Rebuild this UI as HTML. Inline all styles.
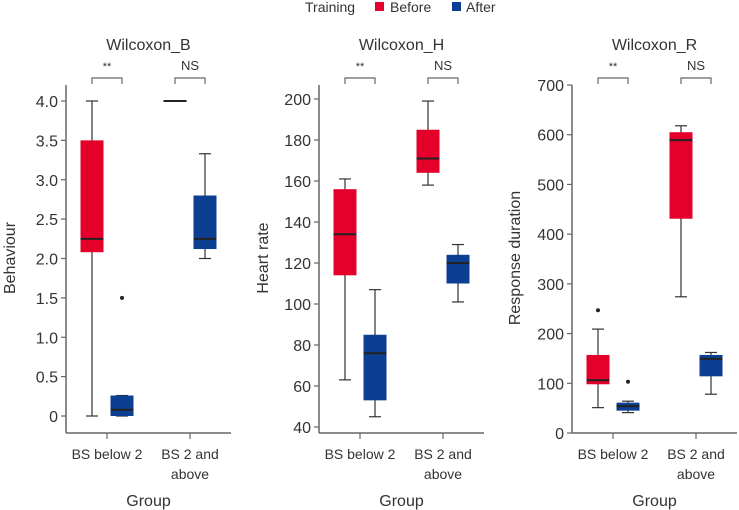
<!DOCTYPE html>
<html><head><meta charset="utf-8"><style>
html,body{margin:0;padding:0;background:#fff}
svg{display:block;font-family:"Liberation Sans",sans-serif}
</style></head><body>
<svg id="c" width="739" height="510" viewBox="0 0 739 510">
<g>
<text x="305" y="12" font-size="14" fill="#333">Training</text>
<rect x="375" y="2" width="9" height="9" fill="#e4002b"/>
<text x="390" y="12" font-size="14" fill="#333">Before</text>
<rect x="452" y="2" width="9" height="9" fill="#0c3f91"/>
<text x="466" y="12" font-size="14" fill="#333">After</text>
</g>
</svg>
<script>
const groups = ["BS below 2", "BS 2 and above"];
const sigLabels = ["**", "NS"];
// [whiskerLow, q1, median, q3, whiskerHigh]
const behaviourBefore = [[0, 2.08, 2.25, 3.5, 4.0], [4.0, 4.0, 4.0, 4.0, 4.0]];
const behaviourAfter = [[0, 0, 0.08, 0.26, 0.26], [2.0, 2.12, 2.25, 2.8, 3.33]];
const behaviourOutliersBefore = [[], []];
const behaviourOutliersAfter = [[1.5], []];
const behaviourTicks = [0, 0.5, 1.0, 1.5, 2.0, 2.5, 3.0, 3.5, 4.0];
const behaviourTickLabels = ["0", "0.5", "1.0", "1.5", "2.0", "2.5", "3.0", "3.5", "4.0"];
const heartBefore = [[63, 114, 134, 156, 161], [158, 164, 171, 185, 199]];
const heartAfter = [[45, 53, 76, 85, 107], [101, 110, 120, 124, 129]];
const heartOutliersBefore = [[], []];
const heartOutliersAfter = [[], []];
const heartTicks = [40, 60, 80, 100, 120, 140, 160, 180, 200];
const respBefore = [[51, 98, 106, 157, 209], [274, 431, 589, 605, 618]];
const respAfter = [[41, 45, 54, 61, 64], [78, 114, 149, 157, 162]];
const respOutliersBefore = [[247], []];
const respOutliersAfter = [[103], []];
const respTicks = [0, 100, 200, 300, 400, 500, 600, 700];

const NS = "http://www.w3.org/2000/svg";
const svg = document.getElementById("c");
function el(tag, attrs, parent, text) {
  const e = document.createElementNS(NS, tag);
  for (const k in attrs) e.setAttribute(k, attrs[k]);
  if (text !== undefined) e.textContent = text;
  (parent || svg).appendChild(e);
  return e;
}
const RED = "#e4002b", BLUE = "#0c3f91", AX = "#666";

function panel(cfg) {
  const g = el("g", {}, svg);
  
  
  const y = v => cfg.y0 + (v - cfg.v0) * (cfg.y1 - cfg.y0) / (cfg.v1 - cfg.v0);
  const gx = i => cfg.gx[i];
  const ya = el("line", {x1: cfg.ax, x2: cfg.ax, y1: 85, y2: 433, stroke: AX, "stroke-width": 1.5}, g);
  
  
  const xa = el("line", {x1: cfg.ax, x2: cfg.axEnd, y1: 433, y2: 433, stroke: AX, "stroke-width": 1.5}, g);
  
  
  cfg.ticks.forEach((t, i) => {
    el("line", {x1: cfg.ax - 5, x2: cfg.ax, y1: y(t), y2: y(t), stroke: AX, "stroke-width": 1.2}, g);
    const tl = el("text", {x: cfg.ax - 8, y: y(t) + 6, "text-anchor": "end", "font-size": 16, fill: "#333"}, g, cfg.labels ? cfg.labels[i] : String(t));
    
    
  });
  groups.forEach((name, i) => {
    el("line", {x1: gx(i), x2: gx(i), y1: 433, y2: 439, stroke: AX, "stroke-width": 1.2}, g);
    const parts = i === 0 ? [name] : ["BS 2 and", "above"];
    parts.forEach((p, j) => {
      const t = el("text", {x: gx(i), y: 459 + j * 20, "text-anchor": "middle", "font-size": 14, fill: "#333"}, g, p);
      
      
    });
    const b = el("path", {d: `M${gx(i)-15},84 V78 H${gx(i)+15} V84`, fill: "none", stroke: AX, "stroke-width": 1.2}, g);
    
    
    const s = el("text", {x: gx(i), y: sigLabels[i] === "**" ? 70 : 70, "text-anchor": "middle", "font-size": sigLabels[i] === "**" ? 11 : 13, fill: "#333"}, g, sigLabels[i]);
    
    
  });
  const ti = el("text", {x: (cfg.ax + cfg.axEnd) / 2, y: 50, "text-anchor": "middle", "font-size": 16, fill: "#333"}, g, cfg.title);
  
  
  const xt = el("text", {x: (gx(0) + gx(1)) / 2, y: 506, "text-anchor": "middle", "font-size": 16, fill: "#333"}, g, "Group");
  
  
  const yt = el("text", {x: 0, y: 0, transform: `translate(${cfg.ytx},258) rotate(-90)`, "text-anchor": "middle", "font-size": 16, fill: "#333"}, g, cfg.ytitle);
  
  

  function box(d, cx, color, outs, nm) {
    const [wl, q1, md, q3, wh] = d;
    const w = 23;
    el("line", {x1: cx, x2: cx, y1: y(wl), y2: y(wh), stroke: "#333", "stroke-width": 1.2}, g);
    el("line", {x1: cx - 6, x2: cx + 6, y1: y(wl), y2: y(wl), stroke: "#333", "stroke-width": 1.2}, g);
    el("line", {x1: cx - 6, x2: cx + 6, y1: y(wh), y2: y(wh), stroke: "#333", "stroke-width": 1.2}, g);
    const r = el("rect", {x: cx - w / 2, y: y(q3), width: w, height: Math.max(0, y(q1) - y(q3)), fill: color}, g);
    
    
    el("line", {x1: cx - w / 2, x2: cx + w / 2, y1: y(md), y2: y(md), stroke: "#222", "stroke-width": 2}, g);
    outs.forEach(o => {
      const p = el("circle", {cx: cx, cy: y(o), r: 2, fill: "#222"}, g);
      
      
    });
  }
  groups.forEach((n, i) => {
    box(cfg.before[i], gx(i) - 15, RED, cfg.ob[i], 'box-before');
    box(cfg.after[i], gx(i) + 15, BLUE, cfg.oa[i], 'box-after');
  });
}

panel({name: "panel-behaviour", title: "Wilcoxon_B", ytitle: "Behaviour", ytx: 15, ax: 66, axEnd: 231, gx: [107, 190],
  v0: 0, v1: 4, y0: 416, y1: 101, ticks: behaviourTicks, labels: behaviourTickLabels,
  before: behaviourBefore, after: behaviourAfter, ob: behaviourOutliersBefore, oa: behaviourOutliersAfter});
panel({name: "panel-heart-rate", title: "Wilcoxon_H", ytitle: "Heart rate", ytx: 268, ax: 319, axEnd: 484, gx: [360, 443],
  v0: 40, v1: 200, y0: 427, y1: 99, ticks: heartTicks,
  before: heartBefore, after: heartAfter, ob: heartOutliersBefore, oa: heartOutliersAfter});
panel({name: "panel-response-duration", title: "Wilcoxon_R", ytitle: "Response duration", ytx: 520, ax: 572, axEnd: 737, gx: [613, 696],
  v0: 0, v1: 700, y0: 433, y1: 85, ticks: respTicks,
  before: respBefore, after: respAfter, ob: respOutliersBefore, oa: respOutliersAfter});
</script>
</body></html>
